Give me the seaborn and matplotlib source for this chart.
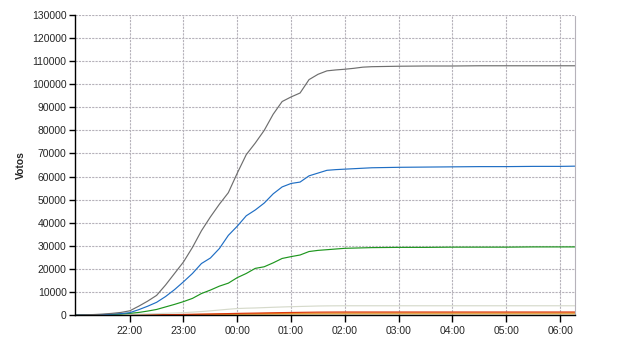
import matplotlib
matplotlib.use("Agg")
import matplotlib.pyplot as plt
import seaborn as sns
import pandas as pd

times = ["21:00", "21:10", "21:20", "21:30", "21:40", "21:50",
         "22:00", "22:10", "22:20", "22:30", "22:40", "22:50",
         "23:00", "23:10", "23:20", "23:30", "23:40", "23:50",
         "00:00", "00:10", "00:20", "00:30", "00:40", "00:50",
         "01:00", "01:10", "01:20", "01:30", "01:40", "01:50",
         "02:00", "02:10", "02:20", "02:30",
         "03:00", "03:30", "04:00", "04:30", "05:00", "05:30", "06:00", "06:17"]

serie_gris = [0, 100, 200, 400, 700, 1100,
              1800, 3800, 6000, 8500, 13000, 18000,
              23000, 29300, 36500, 42500, 48000, 53000,
              61500, 69500, 74500, 80000, 87000, 92500,
              94500, 96200, 102000, 104300, 105800, 106200,
              106500, 106900, 107400, 107600,
              107800, 107900, 107900, 108000, 108000, 108000, 108000, 108000]

serie_azul = [0, 50, 100, 200, 350, 600,
              1000, 2300, 3800, 5500, 8000, 11000,
              14400, 18000, 22300, 24700, 28800, 34500,
              38500, 43000, 45500, 48500, 52500, 55500,
              57000, 57600, 60300, 61500, 62700, 63000,
              63200, 63400, 63600, 63800,
              64000, 64100, 64200, 64300, 64300, 64400, 64400, 64500]

serie_verde = [0, 30, 60, 120, 220, 400,
               700, 1100, 1700, 2400, 3500, 4600,
               5800, 7200, 9300, 10800, 12500, 13800,
               16200, 18000, 20200, 20900, 22600, 24500,
               25300, 26000, 27500, 28000, 28300, 28600,
               28900, 29000, 29100, 29200,
               29300, 29300, 29400, 29400, 29400, 29500, 29500, 29500]

serie_clara = [0, 10, 20, 50, 100, 180,
               300, 380, 480, 600, 730, 860,
               1000, 1250, 1500, 1800, 2150, 2500,
               2800, 2950, 3050, 3200, 3350, 3480,
               3600, 3700, 3800, 3900, 3950, 3980,
               4000, 4000, 4000, 4000,
               4000, 4000, 4000, 4000, 4000, 4000, 4000, 4000]

serie_roja = [0, 0, 0, 5, 10, 20,
              30, 50, 70, 100, 140, 190,
              250, 310, 380, 450, 530, 610,
              700, 770, 830, 900, 970, 1040,
              1100, 1150, 1200, 1250, 1270, 1290,
              1300, 1300, 1300, 1300,
              1300, 1300, 1300, 1300, 1300, 1300, 1300, 1300]

serie_naranja = [0, 0, 0, 0, 5, 10,
                 20, 35, 50, 70, 100, 130,
                 170, 210, 260, 310, 370, 420,
                 480, 530, 580, 630, 680, 720,
                 750, 780, 810, 840, 860, 870,
                 880, 890, 890, 900,
                 900, 900, 900, 900, 900, 900, 900, 900]

serie_amarilla = [0, 0, 0, 0, 0, 5,
                  10, 15, 25, 35, 50, 70,
                  90, 110, 140, 170, 200, 235,
                  270, 300, 330, 360, 385, 405,
                  420, 435, 450, 460, 470, 475,
                  480, 485, 490, 490,
                  495, 500, 500, 500, 500, 500, 500, 500]

x_ticks = [22, 23, 24, 25, 26, 27, 28, 29, 30]
x_tick_labels = ["22:00", "23:00", "00:00", "01:00", "02:00", "03:00", "04:00", "05:00", "06:00"]
y_ticks = list(range(0, 130001, 10000))


def to_hours(s):
    h, m = s.split(":")
    v = int(h) + int(m) / 60.0
    return v + 24 if v < 12 else v


hours = [to_hours(t) for t in times]
series = {
    "amarilla": serie_amarilla,
    "naranja": serie_naranja,
    "roja": serie_roja,
    "clara": serie_clara,
    "verde": serie_verde,
    "azul": serie_azul,
    "gris": serie_gris,
}
palette = {
    "gris": "#6e6e6e",
    "azul": "#1f6ec4",
    "verde": "#1e961e",
    "clara": "#d6dacb",
    "roja": "#dc3a10",
    "naranja": "#f08c24",
    "amarilla": "#d8b050",
}

rows = []
for name, vals in series.items():
    for hh, v in zip(hours, vals):
        rows.append({"hora": hh, "votos": v, "serie": name})
df = pd.DataFrame(rows)

sns.set_style("white")
plt.rcParams["font.family"] = ["Liberation Sans", "DejaVu Sans"]

fig = plt.figure(figsize=(6.4, 3.5), dpi=100)
ax = fig.add_axes([75 / 640, 35 / 350, 500 / 640, 300 / 350])

sns.lineplot(data=df, x="hora", y="votos", hue="serie", palette=palette,
             hue_order=list(series.keys()), linewidth=0.85, legend=False, ax=ax)

x_left = 22 + (75 - 129.7) / 53.8
x_right = 22 + (575 - 129.7) / 53.8
ax.set_xlim(x_left, x_right)
ax.set_ylim(0, 130000)
ax.set_xticks(x_ticks)
ax.set_xticklabels(x_tick_labels)
ax.set_yticks(y_ticks)
ax.set_yticklabels([str(v) for v in y_ticks])

grid_color = "#b6b2ba"
ax.grid(True, color=grid_color, linestyle=(0, (2, 1)), linewidth=0.8)
ax.set_axisbelow(True)

ax.spines["top"].set_visible(False)
ax.spines["right"].set_color(grid_color)
ax.spines["right"].set_linestyle((0, (2, 1)))
ax.spines["right"].set_linewidth(0.8)
ax.spines["left"].set_color("black")
ax.spines["left"].set_linewidth(1.0)
ax.spines["bottom"].set_color("black")
ax.spines["bottom"].set_linewidth(1.0)

ax.tick_params(axis="y", direction="out", length=4, width=1, color="black",
               labelsize=7.5, pad=2, left=True)
ax.tick_params(axis="x", direction="out", length=5, width=1, color="black",
               labelsize=7.5, pad=3, bottom=True)

ax.set_xlabel("")
ax.set_ylabel("Votos", fontsize=7.5, fontweight="bold", labelpad=4)

fig.savefig("out.png", dpi=100)
